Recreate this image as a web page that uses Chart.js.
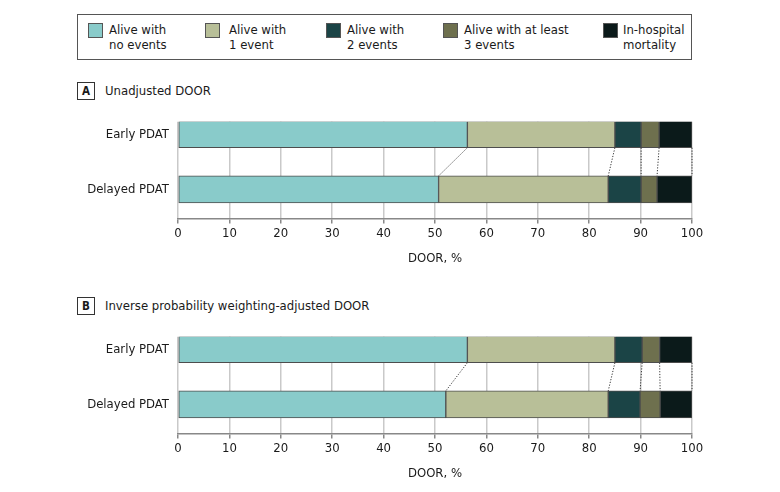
<!DOCTYPE html>
<html>
<head>
<meta charset="utf-8">
<script src="https://cdn.jsdelivr.net/npm/chart.js@4.4.1/dist/chart.umd.min.js"></script>
<style>
  html, body { margin: 0; padding: 0; background: #fff; }
  body { width: 780px; height: 492px; position: relative; overflow: hidden;
         font-family: 'DejaVu Sans Condensed', 'Liberation Sans', sans-serif; color: #1a1a1a; }
  .legend { position: absolute; left: 77px; top: 14px; width: 615px; height: 46px; border: 1px solid #555; box-sizing: border-box; }
  .item { position: absolute; font-size: 13px; line-height: 15px; }
  .sw { position: absolute; width: 15px; height: 15px; box-sizing: border-box; border: 1px solid #555; }
  .lbl { position: absolute; white-space: nowrap; }
  .ptitle { position: absolute; left: 77px; font-size: 13px; line-height: 18px; }
  .pbox { display: inline-block; width: 18px; height: 18px; box-sizing: border-box; border: 1px solid #333; text-align: center; font-weight: bold; font-size: 11.5px; line-height: 16px; vertical-align: top; }
  .ptext { display: inline-block; margin-left: 10px; vertical-align: top; }
  .cw { position: absolute; left: 0; width: 780px; height: 161px; }
</style>
</head>
<body>
<div class="legend" id="legend"></div>
<div class="ptitle" style="top:82px"><span class="pbox">A</span><span class="ptext">Unadjusted DOOR</span></div>
<div class="ptitle" style="top:297px"><span class="pbox">B</span><span class="ptext">Inverse probability weighting-adjusted DOOR</span></div>
<div class="cw" style="top:105px"><canvas id="chartA" width="780" height="161"></canvas></div>
<div class="cw" style="top:320px"><canvas id="chartB" width="780" height="161"></canvas></div>
<script>
// ---- data ----
const groups = ['Early PDAT', 'Delayed PDAT'];
const outcomes = [
  ['Alive with', 'no events'],
  ['Alive with', '1 event'],
  ['Alive with', '2 events'],
  ['Alive with at least', '3 events'],
  ['In-hospital', 'mortality']
];
const colors = ['#89CBCA', '#B8BF98', '#1B4446', '#6E704E', '#0B1A1A'];
// percentages per outcome: [Early, Delayed]
const unadjNoEvents   = [56.3, 50.7];
const unadjOneEvent   = [28.7, 33.0];
const unadjTwoEvents  = [5.1, 6.4];
const unadjThreePlus  = [3.5, 3.1];
const unadjMortality  = [6.4, 6.8];
const iptwNoEvents    = [56.3, 52.1];
const iptwOneEvent    = [28.7, 31.6];
const iptwTwoEvents   = [5.3, 6.2];
const iptwThreePlus   = [3.4, 3.9];
const iptwMortality   = [6.3, 6.2];
const xTicks = [0, 10, 20, 30, 40, 50, 60, 70, 80, 90, 100];
const xTitle = 'DOOR, %';

// ---- legend ----
const legendX = [10, 127, 248, 365, 525];
const textX = [31, 151, 269, 386, 545];
const legend = document.getElementById('legend');
outcomes.forEach((o, i) => {
  const sw = document.createElement('div');
  sw.className = 'sw';
  sw.style.left = legendX[i] + 'px'; sw.style.top = '8px';
  sw.style.background = colors[i];
  legend.appendChild(sw);
  const t = document.createElement('div');
  t.className = 'item lbl';
  t.style.left = textX[i] + 'px'; t.style.top = '7px';
  t.innerHTML = o[0] + '<br>' + o[1];
  legend.appendChild(t);
});

const FONT = "'DejaVu Sans Condensed', 'Liberation Sans', sans-serif";

const connectors = {
  id: 'connectors',
  afterDatasetsDraw(chart) {
    const ctx = chart.ctx;
    ctx.save();
    ctx.strokeStyle = '#333';
    ctx.lineWidth = 1;
    ctx.setLineDash([1.2, 1.6]);
    chart.data.datasets.forEach((ds, i) => {
      const meta = chart.getDatasetMeta(i);
      const a = meta.data[0], b = meta.data[1];
      ctx.beginPath();
      ctx.moveTo(a.x, a.y + a.height / 2);
      ctx.lineTo(b.x, b.y - b.height / 2);
      ctx.stroke();
    });
    ctx.restore();
  }
};

function makeChart(id, series) {
  const datasets = series.map((vals, i) => ({
    label: outcomes[i].join(' '),
    data: vals.map((v, g) => ({ x: v, y: g })),
    backgroundColor: colors[i],
    borderColor: '#4d4d4d',
    borderWidth: 1,
    borderSkipped: false,
    barThickness: 27
  }));
  return new Chart(document.getElementById(id), {
    type: 'bar',
    data: { datasets },
    plugins: [connectors],
    options: {
      indexAxis: 'y',
      responsive: false,
      animation: false,
      layout: { padding: { left: 0, right: 88, top: 12, bottom: 0 } },
      plugins: { legend: { display: false }, tooltip: { enabled: false } },
      scales: {
        x: {
          type: 'linear', stacked: true, min: 0, max: 100,
          afterBuildTicks: s => { s.ticks = xTicks.map(v => ({ value: v })); },
          grid: { color: '#c9c9c9', lineWidth: 1.5, tickLength: 5, tickColor: '#888' },
          border: { display: true, color: '#888', width: 1.5 },
          ticks: { color: '#1a1a1a', padding: 4, font: { family: FONT, size: 13, lineHeight: 1 } },
          title: { display: true, text: xTitle, color: '#1a1a1a', padding: { top: 6, bottom: 0 },
                   font: { family: FONT, size: 13, lineHeight: 1.2 } }
        },
        y: {
          type: 'linear', stacked: true, reverse: true, offset: false, min: -0.225, max: 1.525,
          afterBuildTicks: s => { s.ticks = groups.map((g, i) => ({ value: i })); },
          afterFit: s => { s.width = 178; },
          grid: { display: false, drawTicks: false, tickLength: 0 },
          border: { display: false },
          ticks: { color: '#1a1a1a', padding: 9, callback: v => groups[v],
                   font: { family: FONT, size: 13 } }
        }
      }
    }
  });
}

makeChart('chartA', [unadjNoEvents, unadjOneEvent, unadjTwoEvents, unadjThreePlus, unadjMortality]);
makeChart('chartB', [iptwNoEvents, iptwOneEvent, iptwTwoEvents, iptwThreePlus, iptwMortality]);
</script>
</body>
</html>
